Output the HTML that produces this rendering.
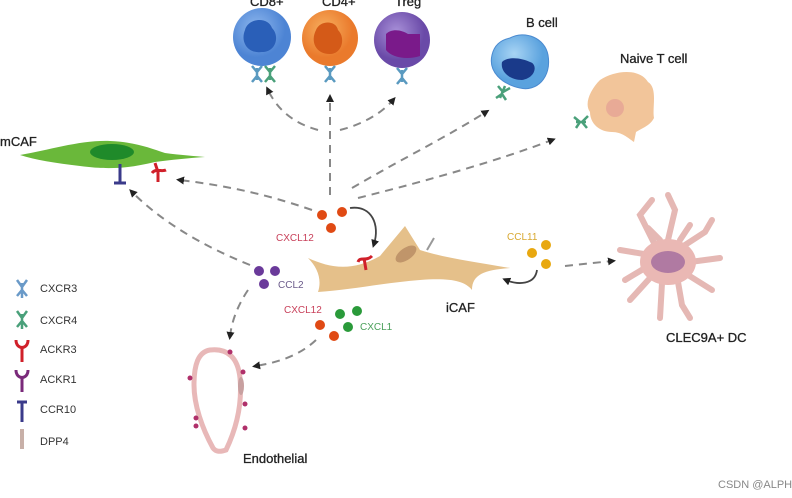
<!DOCTYPE html>
<html><head><meta charset="utf-8"><style>
html,body{margin:0;padding:0;background:#fff}
svg{display:block}
text{font-family:"Liberation Sans",sans-serif}
</style></head><body>
<svg width="792" height="498" viewBox="0 0 792 498" xmlns="http://www.w3.org/2000/svg">
<defs>
<marker id="ah" markerWidth="8" markerHeight="8" refX="4" refY="4" orient="auto" markerUnits="userSpaceOnUse"><path d="M0,0 L8,4 L0,8 Z" fill="#222"/></marker>
<radialGradient id="gb" cx="0.4" cy="0.35"><stop offset="0" stop-color="#8fb8ee"/><stop offset="1" stop-color="#4d84d4"/></radialGradient>
<radialGradient id="go" cx="0.4" cy="0.35"><stop offset="0" stop-color="#f7b060"/><stop offset="1" stop-color="#ea7a2c"/></radialGradient>
<radialGradient id="gp" cx="0.4" cy="0.35"><stop offset="0" stop-color="#a890d8"/><stop offset="1" stop-color="#6a4aa8"/></radialGradient>
<radialGradient id="gbc" cx="0.4" cy="0.35"><stop offset="0" stop-color="#a8d4f4"/><stop offset="1" stop-color="#5aa2de"/></radialGradient>
</defs>
<rect width="792" height="498" fill="#fff"/>

<g font-size="13" fill="#222" stroke="#222" stroke-width="0.3">
<text x="250" y="6">CD8+</text>
<text x="322" y="6">CD4+</text>
<text x="395" y="6">Treg</text>
<text x="526" y="27">B cell</text>
<text x="620" y="63">Naive T cell</text>
<text x="0" y="146">mCAF</text>
<text x="446" y="312">iCAF</text>
<text x="666" y="342">CLEC9A+ DC</text>
<text x="243" y="463">Endothelial</text>
</g>

<!-- top cells -->
<circle cx="262" cy="37" r="29" fill="url(#gb)"/>
<path d="M245,30 C248,18 268,16 272,28 C280,36 276,52 262,52 C248,54 240,42 245,30Z" fill="#2a5fb8"/>
<circle cx="330" cy="38" r="28" fill="url(#go)"/>
<path d="M316,30 C320,20 336,20 338,30 C346,38 342,54 330,54 C316,54 310,42 316,30Z" fill="#d45a18"/>
<circle cx="402" cy="40" r="28" fill="url(#gp)"/>
<path d="M386,34 C392,28 402,30 408,34 L420,34 L420,56 C408,60 392,58 386,50Z" fill="#7a1a8a"/>
<path d="M510,38 C525,30 545,38 548,55 C552,78 536,92 520,88 C502,84 488,72 492,55 C494,46 500,40 510,38Z" fill="url(#gbc)" stroke="#4a8ad0" stroke-width="1"/>
<path d="M502,62 C508,56 522,58 530,62 C538,64 536,78 522,80 C510,80 500,72 502,62Z" fill="#1a3a8a"/>
<path d="M600,80 C615,70 640,68 648,82 C658,88 652,108 654,118 C650,126 642,128 636,132 L634,142 C628,138 622,132 612,132 C600,132 590,124 590,112 C584,104 590,90 600,80Z" fill="#f2c59a"/>
<circle cx="615" cy="108" r="9" fill="#e8aa96"/>
<g stroke="#5a9ac0" stroke-width="2.5" fill="none">
<path d="M257,68 L257,80 M252,66 L257,72 L262,66 M252,82 L257,76 L262,82"/>
<path d="M330,68 L330,80 M325,66 L330,72 L335,66 M325,82 L330,76 L335,82"/>
<path d="M402,70 L402,82 M397,68 L402,74 L407,68 M397,84 L402,78 L407,84"/>
</g>
<g stroke="#4aa07a" stroke-width="2.5" fill="none">
<path d="M270,68 L270,80 M265,66 L270,72 L275,66 M265,82 L270,76 L275,82"/>
<path d="M505,86 L500,98 M498,86 L503,92 L510,88 M496,98 L502,94 L506,100"/>
<path d="M576,122 L586,122 M574,117 L580,122 L576,128 M588,116 L582,122 L587,128"/>
</g>

<!-- mCAF -->
<path d="M20,155 C50,150 80,140 110,141 C135,142 150,148 165,153 C180,155 195,156 205,157 C190,158 170,160 155,162 C130,168 110,170 80,166 C55,163 35,160 20,155Z" fill="#6ab83a"/>
<ellipse cx="112" cy="152" rx="22" ry="8" fill="#1f8a2a"/>
<path d="M120,164 L120,182 M114,183 L126,183" stroke="#3a3a8a" stroke-width="3" fill="none"/>
<path d="M155,163 L158,172 M152,173 C156,168 162,172 166,170 M158,172 L158,182" stroke="#d0202a" stroke-width="3" fill="none"/>

<g stroke="#888" stroke-width="2" stroke-dasharray="8,6" fill="none" marker-end="url(#ah)">
<path d="M318,130 C300,125 280,115 268,90"/>
<path d="M330,195 L330,98"/>
<path d="M340,130 C360,125 380,115 393,100"/>
<path d="M352,188 C400,160 450,135 486,112"/>
<path d="M358,198 C430,180 500,160 552,140"/>
<path d="M312,210 C260,192 220,185 180,180"/>
<path d="M250,265 C200,245 160,220 132,192"/>
<path d="M248,290 C238,305 232,320 230,336"/>
<path d="M316,340 C300,355 280,362 256,366"/>
<path d="M565,266 L612,261"/>
</g>
<path d="M350,208 C372,205 380,225 374,244" stroke="#444" stroke-width="1.8" fill="none" marker-end="url(#ah)"/>
<path d="M537,270 C535,285 518,285 506,280" stroke="#444" stroke-width="1.8" fill="none" marker-end="url(#ah)"/>

<!-- iCAF -->
<path d="M308,258 C330,268 352,272 380,256 L405,226 L420,250 C445,258 475,262 510,268 C485,270 472,274 472,290 C464,280 448,278 420,280 C382,283 350,290 318,292 C322,280 318,268 308,258Z" fill="#e5c08a"/>
<ellipse cx="406" cy="254" rx="12" ry="6" transform="rotate(-35 406 254)" fill="#c0956a"/>
<path d="M427,250 L434,238" stroke="#999" stroke-width="2"/>
<path d="M364,258 L366,270 M358,262 C360,256 366,262 372,256" stroke="#d0202a" stroke-width="3" fill="none"/>

<g fill="#e04a14"><circle cx="322" cy="215" r="5"/><circle cx="342" cy="212" r="5"/><circle cx="331" cy="228" r="5"/><circle cx="320" cy="325" r="5"/><circle cx="334" cy="336" r="5"/></g>
<text x="276" y="241" font-size="10" fill="#c8405a">CXCL12</text>
<g fill="#6a3a9a"><circle cx="259" cy="271" r="5"/><circle cx="275" cy="271" r="5"/><circle cx="264" cy="284" r="5"/></g>
<text x="278" y="288" font-size="10" fill="#6a5a8a">CCL2</text>
<text x="284" y="313" font-size="10" fill="#c8405a">CXCL12</text>
<g fill="#2a9a3a"><circle cx="340" cy="314" r="5"/><circle cx="357" cy="311" r="5"/><circle cx="348" cy="327" r="5"/></g>
<text x="360" y="330" font-size="10" fill="#4aa05a">CXCL1</text>
<g fill="#e8a810"><circle cx="532" cy="253" r="5"/><circle cx="546" cy="245" r="5"/><circle cx="546" cy="264" r="5"/></g>
<text x="507" y="240" font-size="10" fill="#d8a830">CCL11</text>

<!-- DC -->
<g stroke="#e5b8b4" stroke-width="6" stroke-linecap="round" fill="none">
<path d="M650,255 L620,250"/><path d="M655,245 L640,215 L652,200"/><path d="M668,240 L675,210 L668,195"/><path d="M685,245 L705,232 L712,220"/><path d="M690,262 L720,258"/><path d="M688,275 L712,290"/><path d="M678,282 L682,305 L690,318"/><path d="M662,283 L660,318"/><path d="M650,278 L630,300"/><path d="M645,268 L625,280"/><path d="M660,240 L648,228"/><path d="M680,240 L690,225"/>
</g>
<ellipse cx="668" cy="262" rx="28" ry="23" fill="#eab8b4"/>
<ellipse cx="668" cy="262" rx="17" ry="11" fill="#b07aa2"/>

<!-- endothelial -->
<path d="M210,350 C228,348 238,358 240,378 C242,400 238,425 226,450 C220,452 216,452 213,448 C202,428 194,405 194,385 C194,365 198,352 210,350Z" fill="none" stroke="#e8b8b8" stroke-width="5"/>
<ellipse cx="241" cy="386" rx="3" ry="9" fill="#c8a0a0"/>
<g fill="#b0306a"><circle cx="230" cy="352" r="2.5"/><circle cx="243" cy="372" r="2.5"/><circle cx="190" cy="378" r="2.5"/><circle cx="196" cy="418" r="2.5"/><circle cx="196" cy="426" r="2.5"/><circle cx="245" cy="404" r="2.5"/><circle cx="245" cy="428" r="2.5"/></g>

<!-- legend -->
<g stroke="#6a9ac8" stroke-width="2.5" fill="none"><path d="M22,283 L22,298 M17,280 L22,287 L27,280 M17,296 L22,290 L27,296"/></g>
<g stroke="#4aa07a" stroke-width="2.5" fill="none"><path d="M22,314 L22,329 M17,311 L22,318 L27,311 M17,327 L22,321 L27,327"/></g>
<path d="M22,347 L22,362 M16,340 C16,350 28,350 28,340" stroke="#d0202a" stroke-width="3" fill="none"/>
<path d="M22,377 L22,392 M16,370 C16,380 28,380 28,370" stroke="#7a2a7a" stroke-width="3" fill="none"/>
<path d="M22,402 L22,422 M17,402 L27,402" stroke="#3a3a8a" stroke-width="3" fill="none"/>
<rect x="20" y="429" width="4" height="20" fill="#c8b0a8"/>
<g font-size="11" fill="#333">
<text x="40" y="292">CXCR3</text><text x="40" y="324">CXCR4</text><text x="40" y="353">ACKR3</text><text x="40" y="383">ACKR1</text><text x="40" y="413">CCR10</text><text x="40" y="445">DPP4</text>
</g>

<text x="718" y="488" font-size="11" fill="#888">CSDN @ALPH_</text>
</svg>
</body></html>
